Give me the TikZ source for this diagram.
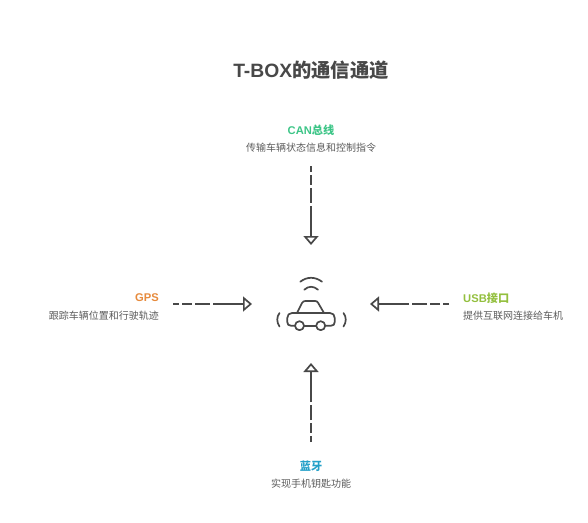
\documentclass[tikz,border=0pt]{standalone}
\usepackage{fontspec}
\setmainfont{Liberation Sans}
\newfontfamily\cjk{Noto Sans CJK SC}
\usetikzlibrary{arrows.meta}
\definecolor{linegray}{HTML}{484848}
\definecolor{descgray}{HTML}{5A5A5A}
\definecolor{cangreen}{HTML}{3DC587}
\definecolor{gpsorange}{HTML}{E68A3C}
\definecolor{usbgreen}{HTML}{93BF3E}
\definecolor{btblue}{HTML}{23A0C8}
\tikzset{
  titlebox/.style={font=\fontsize{19.3}{23}\selectfont\bfseries, text=linegray, inner sep=0pt},
  headbox/.style={font=\fontsize{11.2}{13}\selectfont\bfseries, inner sep=0pt},
  descbox/.style={font=\fontsize{10}{12}\selectfont\cjk, text=descgray, inner sep=0pt},
  channel/.style={draw=linegray, line width=1.8pt, dash pattern={on 6pt off 3pt on 10pt off 3pt on 15pt off 3pt on 60pt}, -{Triangle[open,length=9pt,width=15pt,line width=1.7pt]}},
  carline/.style={draw=linegray, line width=1.7pt, line cap=round, line join=round}
}
\begin{document}
\begin{tikzpicture}[x=1pt,y=-1pt]
    \useasboundingbox (0,0) rectangle (588,522);
    \node[titlebox] (title) at (311,70) {T-BOX{\cjk 的通信通道}};

    % Texts of the four channels
    \node[headbox, text=cangreen] (canhead) at (311,130) {CAN{\cjk 总线}};
    \node[descbox] (candesc) at (311,148) {传输车辆状态信息和控制指令};
    \node[headbox, text=gpsorange, anchor=east] (gpshead) at (159,298) {GPS};
    \node[descbox, anchor=east] (gpsdesc) at (159,316) {跟踪车辆位置和行驶轨迹};
    \node[headbox, text=usbgreen, anchor=west] (usbhead) at (463,298) {USB{\cjk 接口}};
    \node[descbox, anchor=west] (usbdesc) at (463,316) {提供互联网连接给车机};
    \node[headbox, text=btblue] (bthead) at (311,466) {\cjk 蓝牙};
    \node[descbox] (btdesc) at (311,484) {实现手机钥匙功能};

    % Free ends of the arrows
    \coordinate (canstart) at (311,166);
    \coordinate (canend) at (311,245);
    \coordinate (gpsstart) at (173,304);
    \coordinate (gpsend) at (252,304);
    \coordinate (usbstart) at (449,304);
    \coordinate (usbend) at (370,304);
    \coordinate (btstart) at (311,442);
    \coordinate (btend) at (311,363);

    \draw[channel] (canstart) -- (canend);
    \draw[channel] (gpsstart) -- (gpsend);
    \draw[channel] (usbstart) -- (usbend);
    \draw[channel] (btstart) -- (btend);

    % Car
    \draw[carline] (297,313) -- (302,303) .. controls (302.8,301.5) and (304,301) .. (305.5,301) -- (315,301) .. controls (316.5,301) and (317.5,301.5) .. (318.2,303) -- (324,313);
    \draw[carline] (295,325.7) -- (291,325.7) .. controls (288.5,325.7) and (287.3,324.5) .. (287.3,322) -- (287.3,318) .. controls (287.3,315) and (289,313) .. (292,313) -- (330,313) .. controls (333,313) and (334.7,315) .. (334.7,318) -- (334.7,322) .. controls (334.7,324.5) and (333.5,325.7) .. (331,325.7) -- (325.5,325.7);
    \draw[carline] (304,325.7) -- (316,325.7);
    \draw[carline] (299.5,325.7) circle (4.5);
    \draw[carline] (320.7,325.7) circle (4.5);

    % Signal waves and side marks
    \draw[carline] (300.3,281.7) .. controls (307,276.5) and (315,276.5) .. (322,281.7);
    \draw[carline] (304.3,289.7) .. controls (308.5,285.8) and (313.5,285.8) .. (318,289.7);
    \draw[carline] (279.5,313) .. controls (276.5,317) and (276.5,322) .. (279.5,326.5);
    \draw[carline] (343.5,313) .. controls (346.5,317) and (346.5,322) .. (343.5,326.5);
\end{tikzpicture}
\end{document}
